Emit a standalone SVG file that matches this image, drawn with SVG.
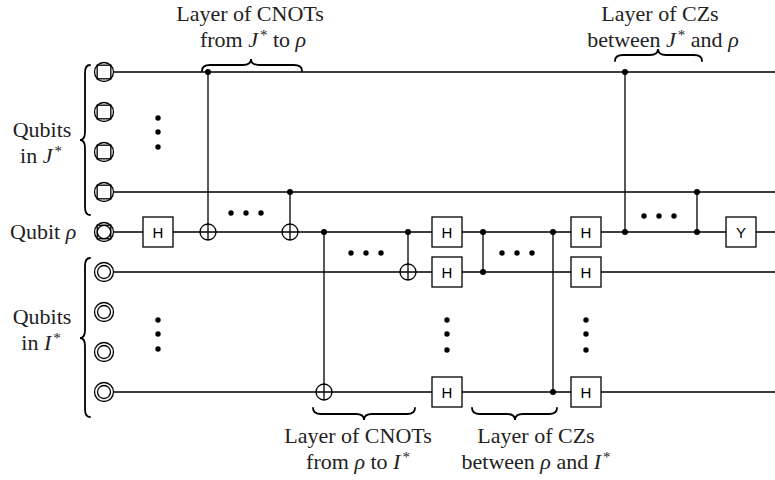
<svg xmlns="http://www.w3.org/2000/svg" width="775" height="480" viewBox="0 0 775 480">
<style>
.w{stroke:#000;stroke-width:1.3;fill:none}
.q{stroke:#000;stroke-width:1.3;fill:#fff}
.g{stroke:#000;stroke-width:1.3;fill:#fff}
.gl{font-family:"Liberation Sans",Arial,sans-serif;font-size:15px;text-anchor:middle;fill:#000}
.t{font-family:"Liberation Serif","Times New Roman",serif;font-size:22px;fill:#222;text-anchor:middle}
.s{font-size:15px}
.i{font-style:italic}
.br{stroke:#000;stroke-width:1.8;fill:none;stroke-linecap:round}
.d{fill:#000}
</style>
<defs>
<g id="jq"><circle class="q" r="9.5"/><rect class="w" x="-6.8" y="-6.8" width="13.6" height="13.6"/></g>
<g id="iq"><circle class="q" r="9.5"/><circle class="w" r="6.5"/></g>
<g id="rq"><circle class="q" r="9.5"/><rect class="w" x="-6.8" y="-6.8" width="13.6" height="13.6"/><circle class="w" r="6.7"/></g>
<g id="tgt"><circle class="q" r="8"/><path class="w" d="M-8 0H8M0 -8V8"/></g>
</defs>

<g id="wires">
<path class="w" d="M113.5 72H775M113.5 192H775M113.5 232H775M113.5 272H775M113.5 392H775"/>
</g>

<g id="qubits">
<use href="#jq" x="104" y="72"/>
<use href="#jq" x="104" y="112"/>
<use href="#jq" x="104" y="152"/>
<use href="#jq" x="104" y="192"/>
<use href="#rq" x="104" y="232"/>
<use href="#iq" x="104" y="272"/>
<use href="#iq" x="104" y="312"/>
<use href="#iq" x="104" y="352"/>
<use href="#iq" x="104" y="392"/>
</g>

<g id="connectors">
<path class="w" d="M208 72V240M290 192V240M324 232V400M408 232V280M483 232V272M553 232V392M625 72V232M697 192V232"/>
</g>

<g id="cnot1"><circle class="d" cx="208" cy="72" r="3"/><use href="#tgt" x="208" y="232"/></g>
<g id="cnot2"><circle class="d" cx="290" cy="192" r="3"/><use href="#tgt" x="290" y="232"/></g>
<g id="cnot3"><circle class="d" cx="324" cy="232" r="3"/><use href="#tgt" x="324" y="392"/></g>
<g id="cnot4"><circle class="d" cx="408" cy="232" r="3"/><use href="#tgt" x="408" y="272"/></g>
<g id="cz1"><circle class="d" cx="483" cy="232" r="3"/><circle class="d" cx="483" cy="272" r="3"/></g>
<g id="cz2"><circle class="d" cx="553" cy="232" r="3"/><circle class="d" cx="553" cy="392" r="3"/></g>
<g id="cz3"><circle class="d" cx="625" cy="72" r="3"/><circle class="d" cx="625" cy="232" r="3"/></g>
<g id="cz4"><circle class="d" cx="697" cy="192" r="3"/><circle class="d" cx="697" cy="232" r="3"/></g>

<g id="gates">
<rect class="g" x="143" y="217" width="30" height="30"/><text class="gl" x="158" y="238">H</text>
<rect class="g" x="432" y="217" width="30" height="30"/><text class="gl" x="447" y="238">H</text>
<rect class="g" x="432" y="257" width="30" height="30"/><text class="gl" x="447" y="278">H</text>
<rect class="g" x="432" y="377" width="30" height="30"/><text class="gl" x="447" y="398">H</text>
<rect class="g" x="571" y="217" width="30" height="30"/><text class="gl" x="586" y="238">H</text>
<rect class="g" x="571" y="257" width="30" height="30"/><text class="gl" x="586" y="278">H</text>
<rect class="g" x="571" y="377" width="30" height="30"/><text class="gl" x="586" y="398">H</text>
<rect class="g" x="726" y="217" width="30" height="30"/><text class="gl" x="741" y="238">Y</text>
</g>

<g id="dots">
<circle class="d" cx="158" cy="118" r="2.7"/><circle class="d" cx="158" cy="132" r="2.7"/><circle class="d" cx="158" cy="147" r="2.7"/>
<circle class="d" cx="158" cy="320" r="2.7"/><circle class="d" cx="158" cy="334" r="2.7"/><circle class="d" cx="158" cy="349" r="2.7"/>
<circle class="d" cx="231" cy="213" r="2.7"/><circle class="d" cx="246" cy="213" r="2.7"/><circle class="d" cx="261" cy="213" r="2.7"/>
<circle class="d" cx="351" cy="253" r="2.7"/><circle class="d" cx="366" cy="253" r="2.7"/><circle class="d" cx="381" cy="253" r="2.7"/>
<circle class="d" cx="502" cy="253" r="2.7"/><circle class="d" cx="517" cy="253" r="2.7"/><circle class="d" cx="532" cy="253" r="2.7"/>
<circle class="d" cx="644" cy="216" r="2.7"/><circle class="d" cx="659" cy="216" r="2.7"/><circle class="d" cx="674" cy="216" r="2.7"/>
<circle class="d" cx="447" cy="320" r="2.7"/><circle class="d" cx="447" cy="334" r="2.7"/><circle class="d" cx="447" cy="350" r="2.7"/>
<circle class="d" cx="586" cy="320" r="2.7"/><circle class="d" cx="586" cy="334" r="2.7"/><circle class="d" cx="586" cy="350" r="2.7"/>
</g>

<g id="braces">
<path class="br" d="M90 65Q85 65 85 73V132Q85 140 80 140Q85 140 85 148V207Q85 215 90 215"/>
<path class="br" d="M90 258Q85 258 85 266V330Q85 338 80 338Q85 338 85 346V409Q85 417 90 417"/>
<path class="br" d="M202 71Q202 65 210 65H243Q251 65 251 59Q251 65 259 65H294Q302 65 302 71"/>
<path class="br" d="M615 61Q615 55 623 55H650Q658 55 658 49Q658 55 666 55H694Q702 55 702 61"/>
<path class="br" d="M313 408Q313 414 321 414H356Q364 414 364 420Q364 414 372 414H407Q415 414 415 408"/>
<path class="br" d="M472 408Q472 414 480 414H507Q515 414 515 420Q515 414 523 414H549Q557 414 557 408"/>
</g>

<g id="labels">
<text class="t" x="250" y="21">Layer of CNOTs</text>
<text class="t" x="253" y="47">from <tspan class="i">J</tspan><tspan class="s" dx="2" dy="-7">*</tspan><tspan dy="7"> to </tspan><tspan class="i">ρ</tspan></text>
<text class="t" x="660" y="21">Layer of CZs</text>
<text class="t" x="663" y="47">between <tspan class="i">J</tspan><tspan class="s" dx="2" dy="-7">*</tspan><tspan dy="7"> and </tspan><tspan class="i">ρ</tspan></text>
<text class="t" x="358" y="443">Layer of CNOTs</text>
<text class="t" x="358" y="469">from <tspan class="i">ρ</tspan> to <tspan class="i">I</tspan><tspan class="s" dx="2" dy="-7">*</tspan></text>
<text class="t" x="536" y="443">Layer of CZs</text>
<text class="t" x="536" y="469">between <tspan class="i">ρ</tspan> and <tspan class="i">I</tspan><tspan class="s" dx="2" dy="-7">*</tspan></text>
<text class="t" x="42" y="137">Qubits</text>
<text class="t" x="41" y="163">in <tspan class="i">J</tspan><tspan class="s" dx="2" dy="-7">*</tspan></text>
<text class="t" x="10" y="239" style="text-anchor:start">Qubit <tspan class="i">ρ</tspan></text>
<text class="t" x="42" y="324">Qubits</text>
<text class="t" x="41" y="350">in <tspan class="i">I</tspan><tspan class="s" dx="2" dy="-7">*</tspan></text>
</g>
</svg>
